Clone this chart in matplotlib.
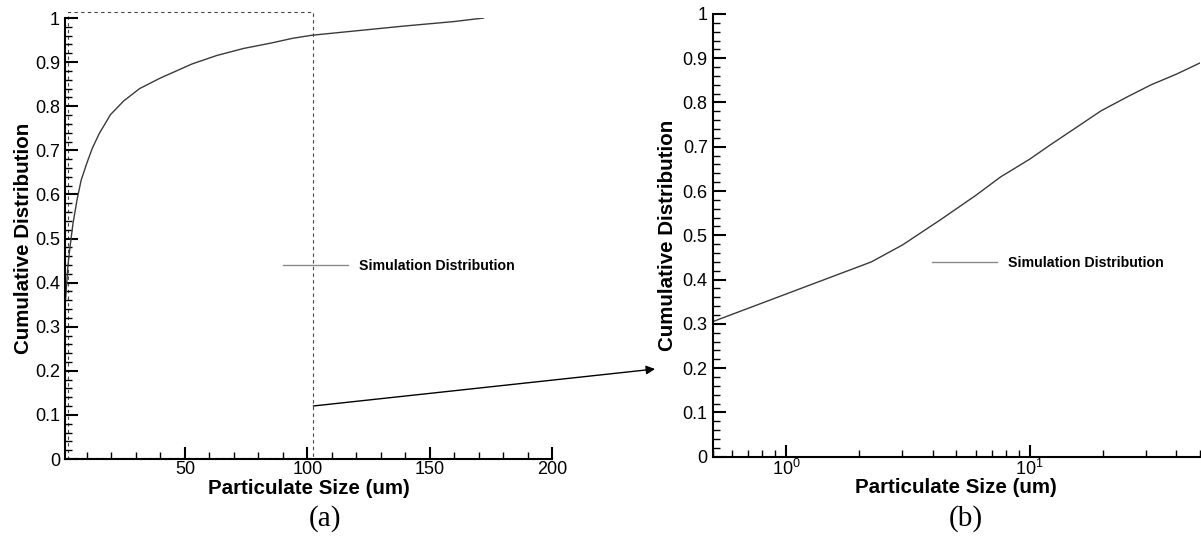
import matplotlib
matplotlib.use("Agg")
import matplotlib.pyplot as plt
from matplotlib.ticker import MultipleLocator, FuncFormatter, NullFormatter, LogLocator
from matplotlib.patches import Rectangle, FancyArrowPatch

plt.rcParams["font.family"] = ["Liberation Sans", "DejaVu Sans"]
plt.rcParams["mathtext.default"] = "regular"

# Particle size (um) and cumulative distribution of the simulated sample
size_um = [0.5, 2.24, 3.0, 4.3, 6.0, 7.6, 10, 12.2, 15, 19.6, 25, 31.5, 40,
           53, 63, 74, 85, 94, 102, 120, 140, 160, 172]
cum_dist = [0.305, 0.44, 0.478, 0.535, 0.59, 0.632, 0.672, 0.705, 0.738, 0.781,
            0.812, 0.84, 0.864, 0.896, 0.915, 0.931, 0.943, 0.954, 0.961,
            0.971, 0.982, 0.992, 1.0]
series_label = "Simulation Distribution"
x_label = "Particulate Size (um)"
y_label = "Cumulative Distribution"
panel_tags = ["(a)", "(b)"]

fig = plt.figure(figsize=(12.01, 5.38), dpi=100)
ax1 = fig.add_axes([0.0541, 0.1468, 0.4055, 0.8197])
ax2 = fig.add_axes([0.5934, 0.1511, 0.4058, 0.8230])

line_color = "#3a3a3a"
num_fmt = FuncFormatter(lambda v, p: f"{v:g}")


def style_axes(ax):
    for s in ("top", "right"):
        ax.spines[s].set_visible(False)
    for s in ("left", "bottom"):
        ax.spines[s].set_linewidth(1.5)
    ax.tick_params(which="major", direction="in", length=9, width=1.5,
                   labelsize=13, colors="black")
    ax.tick_params(which="minor", direction="in", length=5, width=1)
    ax.tick_params(axis="y", which="both", pad=3.6)
    ax.tick_params(axis="x", which="both", pad=1.5)
    ax.set_ylim(0, 1)
    ax.yaxis.set_major_locator(MultipleLocator(0.1))
    ax.yaxis.set_minor_locator(MultipleLocator(0.02))
    ax.yaxis.set_major_formatter(num_fmt)
    ax.set_xlabel(x_label, fontsize=14.8, fontweight="bold")
    ax.set_ylabel(y_label, fontsize=14.8, fontweight="bold")


# (a) linear size axis
ax1.plot(size_um, cum_dist, color=line_color, lw=1.0, label=series_label)
ax1.set_xlim(1, 200)
ax1.xaxis.set_major_locator(MultipleLocator(50))
ax1.xaxis.set_minor_locator(MultipleLocator(10))
ax1.xaxis.set_major_formatter(num_fmt)
style_axes(ax1)
ax1.xaxis.set_label_coords(0.5, -0.046)
ax1.yaxis.set_label_coords(-0.066, 0.5)

# dashed frame of the zoomed range
ax1.add_patch(Rectangle((2.4, 0.003), 99.8, 1.011, fill=False,
                        ls=(0, (3, 3)), lw=0.8, ec="#444444", clip_on=False))

# (b) logarithmic size axis
ax2.plot(size_um, cum_dist, color=line_color, lw=1.0, label=series_label)
ax2.set_xscale("log")
ax2.set_xlim(0.5, 50)
ax2.xaxis.set_major_locator(LogLocator(base=10))
ax2.xaxis.set_minor_locator(LogLocator(base=10, subs=range(2, 10)))
ax2.xaxis.set_minor_formatter(NullFormatter())
style_axes(ax2)
ax2.xaxis.set_label_coords(0.5, -0.049)
ax2.yaxis.set_label_coords(-0.073, 0.5)

for ax, anchor in ((ax1, (0.4476, 0.4376)), (ax2, (0.450, 0.4375))):
    leg = ax.legend(loc="center left", bbox_to_anchor=anchor, frameon=False,
                    borderpad=0, borderaxespad=0, handlelength=4.6,
                    handletextpad=0.77,
                    prop={"weight": "bold", "size": 10.2})
    leg.get_lines()[0].set_color("#8a8a8a")

# arrow linking the zoomed range to panel (b)
fig.add_artist(FancyArrowPatch(
    (0.2609, 0.2454), (0.5454, 0.3141), transform=fig.transFigure,
    arrowstyle="-|>", mutation_scale=13, color="black", lw=1.0,
    shrinkA=0, shrinkB=0))

fig.text(0.2706, 0.037, panel_tags[0], ha="center", va="center",
         family="Liberation Serif", fontsize=21)
fig.text(0.8043, 0.037, panel_tags[1], ha="center", va="center",
         family="Liberation Serif", fontsize=21)

fig.savefig("out.png", dpi=100)
